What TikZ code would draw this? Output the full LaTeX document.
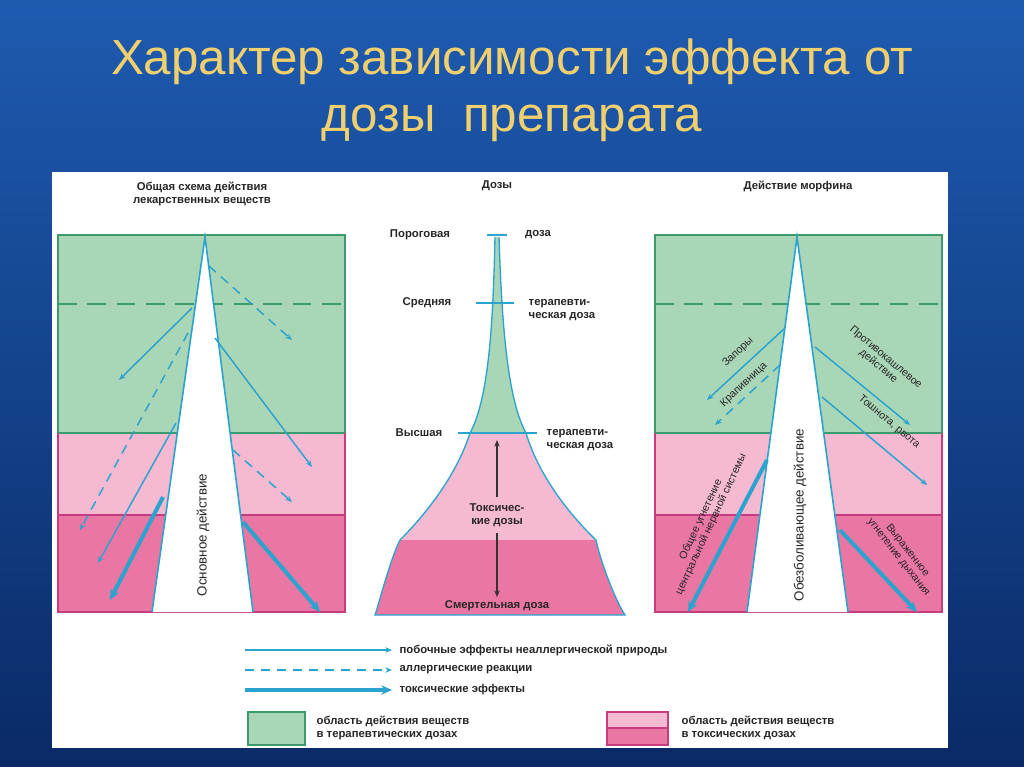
\documentclass[tikz,border=0pt]{standalone}
\usepackage{fontspec}
\setmainfont{Liberation Sans}
\usetikzlibrary{arrows.meta}
\definecolor{bgA}{HTML}{1E5BB0}
\definecolor{bgB}{HTML}{0A2A66}
\definecolor{gold}{HTML}{EFCF6E}
\definecolor{grn}{HTML}{A9D6B6}
\definecolor{grnb}{HTML}{3C9A6C}
\definecolor{lpk}{HTML}{F5B9D2}
\definecolor{dpk}{HTML}{EA76A3}
\definecolor{pkb}{HTML}{C63C7E}
\definecolor{arr}{HTML}{2AA3CF}
\tikzset{
 thin arr/.style={arr, line width=1.1pt, -{Stealth[length=5pt,width=4pt]}},
 dash arr/.style={arr, line width=1.1pt, dash pattern=on 7pt off 5pt, -{Stealth[length=5pt,width=4pt]}},
 thick arr/.style={arr, line width=3pt, -{Stealth[length=8pt,width=7pt]}},
 lbl/.style={font=\fontsize{8.5}{9.5}\selectfont\bfseries, text=black!85, align=center, inner sep=1pt},
 rlbl/.style={font=\fontsize{8}{8.5}\selectfont, text=black!85, align=center, inner sep=0.5pt},
 spike/.style={fill=white, draw=arr, line width=1.2pt},
}
\begin{document}
\begin{tikzpicture}[x=0.75pt,y=-0.75pt]
\useasboundingbox (0,0) rectangle (1024,767);
\shade[top color=bgA, bottom color=bgB] (0,0) rectangle (1024,767);
\node[text=gold, font=\fontsize{37}{43}\selectfont, align=center] (title) at (512,90) {Характер зависимости эффекта от\\дозы\ \ препарата};
\fill[white] (52,172) rectangle (948,748);
% ---------- left panel
\node[lbl] (lt) at (202,194) {Общая схема действия\\лекарственных веществ};
\fill[grn] (58,235) rectangle (345,433);
\fill[lpk] (58,433) rectangle (345,515);
\fill[dpk] (58,515) rectangle (345,612);
\draw[grnb, line width=1pt] (58,433) |- (345,235) -- (345,433);
\draw[grnb, line width=1pt] (58,433) -- (345,433);
\draw[pkb, line width=1pt] (58,433) |- (345,612) -- (345,433);
\draw[pkb, line width=1pt] (58,515) -- (345,515);
\draw[grnb, line width=1pt, dash pattern=on 14pt off 8pt] (58,304) -- (345,304);
\draw[spike] (152,612) -- (205,237) -- (253,612);
\node[rlbl, rotate=90, font=\fontsize{10}{12}\selectfont] (osn) at (203,535) {Основное действие};
\coordinate (l1) at (209,266); \coordinate (l1e) at (292,340);
\coordinate (l2) at (192,308); \coordinate (l2e) at (119,380);
\coordinate (l3) at (188,333); \coordinate (l3e) at (80,530);
\coordinate (l4) at (215,338); \coordinate (l4e) at (312,467);
\coordinate (l5) at (176,423); \coordinate (l5e) at (98,563);
\coordinate (l6) at (233,450); \coordinate (l6e) at (292,502);
\coordinate (l7) at (163,497); \coordinate (l7e) at (110,600);
\coordinate (l8) at (243,522); \coordinate (l8e) at (320,612);
\draw[dash arr] (l1) -- (l1e);
\draw[thin arr] (l2) -- (l2e);
\draw[dash arr] (l3) -- (l3e);
\draw[thin arr] (l4) -- (l4e);
\draw[thin arr] (l5) -- (l5e);
\draw[dash arr] (l6) -- (l6e);
\draw[thick arr] (l7) -- (l7e);
\draw[thick arr] (l8) -- (l8e);
% ---------- middle panel
\node[lbl] (mt) at (497,186) {Дозы};
\fill[grn] (495,237) .. controls (493,330) and (488,400) .. (470,433) -- (526,433) .. controls (508,400) and (502,330) .. (499,237) -- cycle;
\fill[lpk] (470,433) .. controls (455,480) and (420,520) .. (400,540) -- (596,540) .. controls (575,520) and (540,480) .. (526,433) -- cycle;
\fill[dpk] (400,540) .. controls (390,560) and (380,600) .. (375,615) -- (625,615) .. controls (615,600) and (600,560) .. (596,540) -- cycle;
\draw[arr, line width=1pt] (495,237) .. controls (493,330) and (488,400) .. (470,433) .. controls (455,480) and (420,520) .. (400,540) .. controls (390,560) and (380,600) .. (375,615) -- (625,615) .. controls (615,600) and (600,560) .. (596,540) .. controls (575,520) and (540,480) .. (526,433) .. controls (508,400) and (502,330) .. (499,237);
\draw[arr, line width=1pt] (487,235) -- (507,235);
\draw[arr, line width=1pt] (476,303) -- (514,303);
\draw[arr, line width=1pt] (458,433) -- (537,433);
\node[lbl] (m1) at (420,235) {Пороговая};
\node[lbl] (m2) at (538,235) {доза};
\node[lbl] (m3) at (427,303) {Средняя};
\node[lbl, align=left] (m4) at (562,310) {терапевти-\\ческая доза};
\node[lbl] (m5) at (419,433) {Высшая};
\node[lbl, align=left] (m6) at (580,440) {терапевти-\\ческая доза};
\node[lbl] (m7) at (497,515) {Токсичес-\\кие дозы};
\node[lbl] (m8) at (497,606) {Смертельная доза};
\draw[black!80, line width=0.8pt, -{Stealth[length=5pt,width=4pt]}] (m7.north) ++(0,-5) -- (497,440);
\draw[black!80, line width=0.8pt, -{Stealth[length=5pt,width=4pt]}] (m7.south) ++(0,5) -- (497,597);
% ---------- right panel
\node[lbl] (rt) at (798,186) {Действие морфина};
\fill[grn] (655,235) rectangle (942,433);
\fill[lpk] (655,433) rectangle (942,515);
\fill[dpk] (655,515) rectangle (942,612);
\draw[grnb, line width=1pt] (655,433) |- (942,235) -- (942,433);
\draw[grnb, line width=1pt] (655,433) -- (942,433);
\draw[pkb, line width=1pt] (655,433) |- (942,612) -- (942,433);
\draw[pkb, line width=1pt] (655,515) -- (942,515);
\draw[grnb, line width=1pt, dash pattern=on 14pt off 8pt] (655,304) -- (942,304);
\draw[spike] (747,612) -- (797,237) -- (848,612);
\node[rlbl, rotate=90, font=\fontsize{10}{12}\selectfont] (obz) at (800,515) {Обезболивающее действие};
\coordinate (r1) at (785,328); \coordinate (r1e) at (707,400);
\coordinate (r2) at (780,365); \coordinate (r2e) at (715,425);
\coordinate (r3) at (815,347); \coordinate (r3e) at (910,425);
\coordinate (r4) at (822,397); \coordinate (r4e) at (927,485);
\coordinate (r5) at (767,460); \coordinate (r5e) at (688,612);
\coordinate (r6) at (840,530); \coordinate (r6e) at (917,612);
\draw[thin arr] (r1) -- (r1e);
\draw[dash arr] (r2) -- (r2e);
\draw[thin arr] (r3) -- (r3e);
\draw[thin arr] (r4) -- (r4e);
\draw[thick arr] (r5) -- (r5e);
\draw[thick arr] (r6) -- (r6e);
\node[rlbl, rotate=43] (t1) at (738,352) {Запоры};
\node[rlbl, rotate=43] (t2) at (744,385) {Крапивница};
\node[rlbl, rotate=-40] (t3) at (882,362) {Противокашлевое\\действие};
\node[rlbl, rotate=-40] (t4) at (889,422) {Тошнота, рвота};
\node[rlbl, rotate=65] (t5) at (706,522) {Общее угнетение\\центральной нервной системы};
\node[rlbl, rotate=-52] (t6) at (903,554) {Выраженное\\угнетение дыхания};
% ---------- legend
\coordinate (a1) at (245,650); \coordinate (a1e) at (392,650);
\coordinate (a2) at (245,670); \coordinate (a2e) at (392,670);
\coordinate (a3) at (245,690); \coordinate (a3e) at (392,690);
\draw[thin arr] (a1) -- (a1e);
\draw[dash arr] (a2) -- (a2e);
\draw[thick arr] (a3) -- (a3e);
\node[lbl, anchor=west] (g1) at (398,650) {побочные эффекты неаллергической природы};
\node[lbl, anchor=west] (g2) at (398,670) {аллергические реакции};
\node[lbl, anchor=west] (g3) at (398,690) {токсические эффекты};
\draw[fill=grn, draw=grnb, line width=1pt] (248,712) rectangle (305,745);
\node[lbl, anchor=west, align=left] (g4) at (315,728) {область действия веществ\\в терапевтических дозах};
\fill[lpk] (607,712) rectangle (668,728);
\fill[dpk] (607,728) rectangle (668,745);
\draw[pkb, line width=1pt] (607,712) rectangle (668,745);
\draw[pkb, line width=1pt] (607,728) -- (668,728);
\node[lbl, anchor=west, align=left] (g5) at (680,728) {область действия веществ\\в токсических дозах};
\end{tikzpicture}
\end{document}
